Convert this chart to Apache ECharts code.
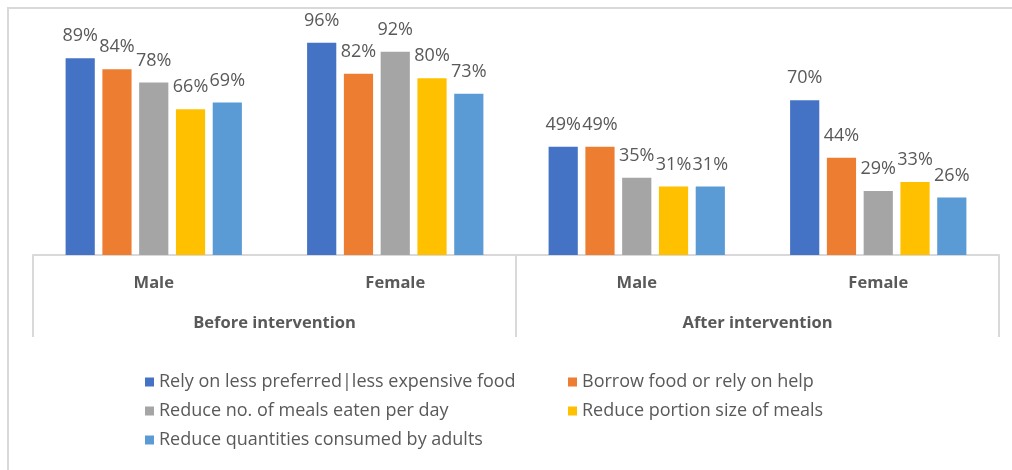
<!DOCTYPE html>
<html>
<head>
<meta charset="utf-8">
<script src="https://cdn.jsdelivr.net/npm/echarts@6/dist/echarts.min.js"></script>
<style>
html,body{margin:0;padding:0;background:#fff;}
#frame{position:absolute;left:7px;top:7px;width:1010px;height:470px;border-top:2px solid #d9d9d9;border-left:2px solid #d9d9d9;}
#chart{position:absolute;left:0;top:0;width:1012px;height:470px;}
</style>
</head>
<body>
<div id="frame"></div>
<div id="chart"></div>
<script>
const subCategories = ['Male', 'Female', 'Male', 'Female'];
const groupCategories = ['Before intervention', 'After intervention'];
const seriesNames = [
  'Rely on less preferred|less expensive food',
  'Borrow food or rely on help',
  'Reduce no. of meals eaten per day',
  'Reduce portion size of meals',
  'Reduce quantities consumed by adults'
];
const relyLessPreferred = [89, 96, 49, 70];
const borrowFood = [84, 82, 49, 44];
const reduceMeals = [78, 92, 35, 29];
const reducePortion = [66, 80, 31, 33];
const reduceAdults = [69, 73, 31, 26];
const colors = ['#4472C4', '#ED7D31', '#A5A5A5', '#FFC000', '#5B9BD5'];

const allValues = [relyLessPreferred, borrowFood, reduceMeals, reducePortion, reduceAdults];
const textColor = '#595959';
const fontFam = '"Open Sans", "Noto Sans", sans-serif';

const chart = echarts.init(document.getElementById('chart'), null, {renderer: 'canvas'});
const series = allValues.map((vals, i) => ({
  name: seriesNames[i],
  type: 'bar',
  data: vals,
  xAxisIndex: 0,
  itemStyle: {color: colors[i]},
  barGap: '26%',
  barCategoryGap: '27%',
  label: {
    show: true,
    position: 'top',
    distance: 13,
    formatter: '{c}%',
    color: textColor,
    fontSize: 18,
    fontFamily: fontFam
  }
}));

const legendText = {color: textColor, fontSize: 18, fontFamily: fontFam, lineHeight: 20};
chart.setOption({
  animation: false,
  backgroundColor: 'transparent',
  grid: {left: 33, right: 13, top: 34, bottom: 215, containLabel: false},
  xAxis: [
    {
      type: 'category',
      data: subCategories,
      position: 'bottom',
      axisLine: {show: true, lineStyle: {color: '#d9d9d9', width: 2}},
      axisTick: {show: false},
      axisLabel: {color: textColor, fontSize: 16.5, fontWeight: 'bold', fontFamily: fontFam, margin: 20}
    },
    {
      type: 'category',
      data: groupCategories,
      position: 'bottom',
      axisLine: {show: false},
      axisTick: {show: true, length: 82, lineStyle: {color: '#d9d9d9', width: 2}},
      axisLabel: {color: textColor, fontSize: 16.5, fontWeight: 'bold', fontFamily: fontFam, margin: 60}
    }
  ],
  yAxis: {
    type: 'value',
    min: 0,
    max: 100,
    show: false,
    splitLine: {show: false}
  },
  legend: [
    {
      orient: 'vertical',
      left: 140,
      top: 367,
      itemWidth: 9,
      itemHeight: 9,
      itemGap: 9,
      icon: 'rect',
      textStyle: legendText,
      data: [seriesNames[0], seriesNames[2], seriesNames[4]]
    },
    {
      orient: 'vertical',
      left: 563,
      top: 367,
      itemWidth: 9,
      itemHeight: 9,
      itemGap: 9,
      icon: 'rect',
      textStyle: legendText,
      data: [seriesNames[1], seriesNames[3]]
    }
  ],
  series: series
});
</script>
</body>
</html>
